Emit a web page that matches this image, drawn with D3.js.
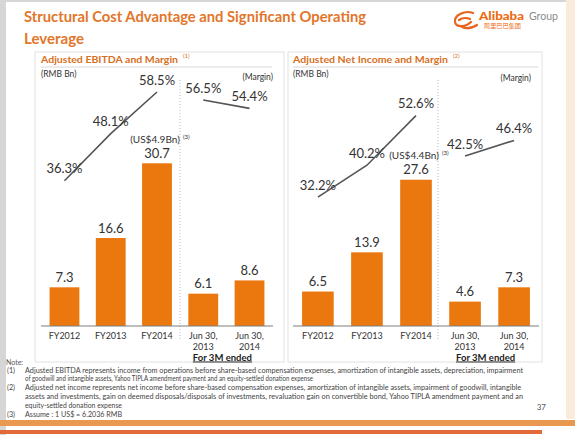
<!DOCTYPE html>
<html>
<head>
<meta charset="utf-8">
<script src="https://cdn.jsdelivr.net/npm/d3@7"></script>
<style>
  html, body { margin: 0; padding: 0; background: #fff; }
  svg { display: block; font-family: Lato, "Open Sans", sans-serif; }
</style>
</head>
<body>
<svg width="575" height="435"></svg>
<script>
// Chart data
const categories = ['FY2012', 'FY2013', 'FY2014', 'Jun 30, 2013', 'Jun 30, 2014'];
const ebitdaValues = [7.3, 16.6, 30.7, 6.1, 8.6];
const ebitdaMargins = [36.3, 48.1, 58.5, 56.5, 54.4];
const netIncomeValues = [6.5, 13.9, 27.6, 4.6, 7.3];
const netIncomeMargins = [32.2, 40.2, 52.6, 42.5, 46.4];
const usdNotes = ['(US$4.9Bn)', '(US$4.4Bn)'];
const marginGroups = [[0, 1, 2], [3, 4]];

const footnotes = [
    { mark: '(1)', lines: [
        'Adjusted EBITDA represents income from operations before share-based compensation expenses, amortization of intangible assets, depreciation, impairment',
        'of goodwill and intangible assets, Yahoo TIPLA amendment payment and an equity-settled donation expense'] },
    { mark: '(2)', lines: [
        'Adjusted net income represents net income before share-based compensation expenses, amortization of intangible assets, impairment of goodwill, intangible',
        'assets and investments, gain on deemed disposals/disposals of investments, revaluation gain on convertible bond, Yahoo TIPLA amendment payment and an',
        'equity-settled donation expense'] },
    { mark: '(3)', lines: ['Assume : 1 US$ = 6.2036 RMB'] }
];
const footnoteWidths = [498, 288, 496, 498, 97, 97];

const svg = d3.select('svg');
const orange = '#EB780E';
const titleOrange = '#E2762A';
const baseline = 326;

// slide frame
svg.append('rect').attr('width', 575).attr('height', 435).attr('fill', '#fff');
svg.append('rect').attr('x', 0).attr('y', 0).attr('width', 6).attr('height', 435).attr('fill', '#d6d6d6');
svg.append('rect').attr('x', 0).attr('y', 0).attr('width', 575).attr('height', 2).attr('fill', '#d6d6d6');
svg.append('rect').attr('x', 566).attr('y', 0).attr('width', 9).attr('height', 419).attr('fill', '#fbebdc');
svg.append('rect').attr('x', 0).attr('y', 420).attr('width', 575).attr('height', 6).attr('fill', '#E99850');
svg.append('rect').attr('x', 0).attr('y', 430).attr('width', 542).attr('height', 4).attr('fill', '#E2693A');

// title
svg.append('text').attr('x', 24).attr('y', 22)
    .attr('font-size', 16).attr('font-weight', 700).attr('fill', titleOrange)
    .attr('textLength', 342).attr('lengthAdjust', 'spacingAndGlyphs')
    .text('Structural Cost Advantage and Significant Operating');
svg.append('text').attr('x', 24).attr('y', 44)
    .attr('font-size', 16).attr('font-weight', 700).attr('fill', titleOrange)
    .attr('textLength', 60).attr('lengthAdjust', 'spacingAndGlyphs')
    .text('Leverage');

// logo
const logo = svg.append('g');
logo.append('path')
    .attr('d', 'M473,13 C465,10 454,15 455,22 C456,28 466,27 471,22 M459,20 C463,17 468,18 470,19 M462,27 C466,29 472,28 477,25')
    .attr('fill', 'none').attr('stroke', '#E8641C').attr('stroke-width', 2.2).attr('stroke-linecap', 'round');
logo.append('text').attr('x', 479).attr('y', 20)
    .attr('font-size', 11.5).attr('font-weight', 900).attr('fill', '#EE6A10')
    .attr('textLength', 45).attr('lengthAdjust', 'spacingAndGlyphs').text('Alibaba');
logo.append('text').attr('x', 529).attr('y', 20)
    .attr('font-size', 10.5).attr('fill', '#8a8a8a')
    .attr('textLength', 29).attr('lengthAdjust', 'spacingAndGlyphs').text('Group');
logo.append('text').attr('x', 484).attr('y', 28)
    .attr('font-family', '"Noto Sans CJK SC"').attr('font-size', 6).attr('fill', '#EE6A10')
    .attr('textLength', 37).attr('lengthAdjust', 'spacingAndGlyphs').text('阿里巴巴集团');

// panel layout
const panels = [
    { title: 'Adjusted EBITDA and Margin', ref: '(1)', values: ebitdaValues, margins: ebitdaMargins,
      usd: usdNotes[0], box: [35, 52, 249, 310], range: [41, 273], marginX: 273, marginY: 80, titleWidth: 137, sepX: 180 },
    { title: 'Adjusted Net Income and Margin', ref: '(2)', values: netIncomeValues, margins: netIncomeMargins,
      usd: usdNotes[1], box: [288, 52, 254, 310], range: [293, 539], marginX: 531, marginY: 81, titleWidth: 155, sepX: 438 }
];

const yScale = d3.scaleLinear().domain([0, 30]).range([baseline, baseline - 159]);
const marginScale = d3.scaleLinear().domain([0, 60]).range([baseline, baseline - 240]);

panels.forEach(p => {
    const g = svg.append('g');

    g.append('rect')
        .attr('x', p.box[0]).attr('y', p.box[1]).attr('width', p.box[2]).attr('height', p.box[3])
        .attr('fill', '#fff').attr('stroke', '#e2e2e2').attr('stroke-width', 1);

    g.append('text').attr('x', p.range[0]).attr('y', 62.5)
        .attr('font-size', 10).attr('font-weight', 700).attr('fill', '#D86F1E')
        .attr('textLength', p.titleWidth).attr('lengthAdjust', 'spacingAndGlyphs')
        .text(p.title);
    g.append('text').attr('x', p.range[0] + p.titleWidth + 5).attr('y', 58)
        .attr('font-size', 6).attr('fill', '#D86F1E').text(p.ref);

    g.append('line')
        .attr('x1', p.range[0]).attr('x2', p.range[1] - 1).attr('y1', 67).attr('y2', 67)
        .attr('stroke', '#d8d8d8').attr('stroke-width', 1);

    g.append('text').attr('x', p.range[0]).attr('y', 77)
        .attr('font-size', 8.5).attr('fill', '#333').text('(RMB Bn)');
    g.append('text').attr('x', p.marginX).attr('y', p.marginY).attr('text-anchor', 'end')
        .attr('font-size', 8.5).attr('fill', '#333').text('(Margin)');

    const xScale = d3.scaleBand()
        .domain(categories)
        .range(p.range)
        .paddingInner(0.355)
        .paddingOuter(0.185);
    const cx = i => xScale(categories[i]) + xScale.bandwidth() / 2;

    // dotted separator between annual and quarterly
    g.append('line')
        .attr('x1', p.sepX).attr('x2', p.sepX).attr('y1', 80).attr('y2', 340)
        .attr('stroke', '#b8b8c8').attr('stroke-width', 1).attr('stroke-dasharray', '1,2');

    // bars
    g.selectAll('rect.bar')
        .data(p.values)
        .join('rect')
        .attr('class', 'bar')
        .attr('x', (d, i) => xScale(categories[i]))
        .attr('y', d => yScale(d))
        .attr('width', xScale.bandwidth())
        .attr('height', d => baseline - yScale(d))
        .attr('fill', orange);

    g.selectAll('text.value')
        .data(p.values)
        .join('text')
        .attr('class', 'value')
        .attr('x', (d, i) => cx(i))
        .attr('y', d => yScale(d) - 5.5)
        .attr('text-anchor', 'middle')
        .attr('font-size', 13).attr('fill', '#333')
        .text(d => d.toFixed(1));

    // US$ annotation above the largest bar
    const usdX = cx(2) - 2;
    const usdY = yScale(p.values[2]) - 20.5;
    g.append('text')
        .attr('x', usdX).attr('y', usdY)
        .attr('text-anchor', 'middle').attr('font-size', 10).attr('fill', '#333')
        .text(p.usd);
    g.append('text')
        .attr('x', usdX + 28).attr('y', usdY - 4)
        .attr('font-size', 6).attr('fill', '#333').text('(3)');

    // x axis line
    g.append('line')
        .attr('x1', p.range[0]).attr('x2', p.range[1]).attr('y1', baseline).attr('y2', baseline)
        .attr('stroke', '#7f7f7f').attr('stroke-width', 1.2);

    // category labels
    g.selectAll('text.cat')
        .data(categories)
        .join('text')
        .attr('class', 'cat')
        .attr('text-anchor', 'middle')
        .attr('font-size', 9).attr('fill', '#333')
        .each(function(d, i) {
            const parts = d.split(', ');
            const t = d3.select(this);
            parts.forEach((s, k) => {
                t.append('tspan')
                    .attr('x', cx(i))
                    .attr('y', 339 + k * 11)
                    .text(k < parts.length - 1 ? s + ',' : s);
            });
        });

    g.append('text')
        .attr('x', (cx(3) + cx(4)) / 2 - 4).attr('y', 360.5)
        .attr('text-anchor', 'middle')
        .attr('font-size', 9.5).attr('font-weight', 700).attr('fill', '#222')
        .attr('text-decoration', 'underline')
        .text('For 3M ended');

    // margin lines
    const line = d3.line()
        .x(i => cx(i))
        .y(i => marginScale(p.margins[i]));
    marginGroups.forEach(grp => {
        g.append('path')
            .attr('d', line(grp))
            .attr('fill', 'none').attr('stroke', '#555').attr('stroke-width', 1.6);
    });

    g.selectAll('text.margin')
        .data(p.margins)
        .join('text')
        .attr('class', 'margin')
        .attr('x', (d, i) => cx(i))
        .attr('y', d => marginScale(d) - 7.5)
        .attr('text-anchor', 'middle')
        .attr('font-size', 13).attr('fill', '#333')
        .text(d => d.toFixed(1) + '%');
});

// footnotes
svg.append('text').attr('x', 6).attr('y', 364.5)
    .attr('font-size', 7).attr('fill', '#555').text('Note:');

let row = 0;
footnotes.forEach(f => {
    f.lines.forEach((ln, k) => {
        const y = 372.5 + row * 8.9;
        if (k === 0) {
            svg.append('text').attr('x', 7).attr('y', y)
                .attr('font-size', 7.2).attr('fill', '#444').text(f.mark);
        }
        svg.append('text').attr('x', 25).attr('y', y)
            .attr('font-size', 7.2).attr('fill', '#444')
            .attr('textLength', footnoteWidths[row]).attr('lengthAdjust', 'spacingAndGlyphs')
            .text(ln);
        row++;
    });
});

svg.append('text').attr('x', 546).attr('y', 410)
    .attr('text-anchor', 'end').attr('font-size', 8).attr('fill', '#555').text('37');
</script>
</body>
</html>
